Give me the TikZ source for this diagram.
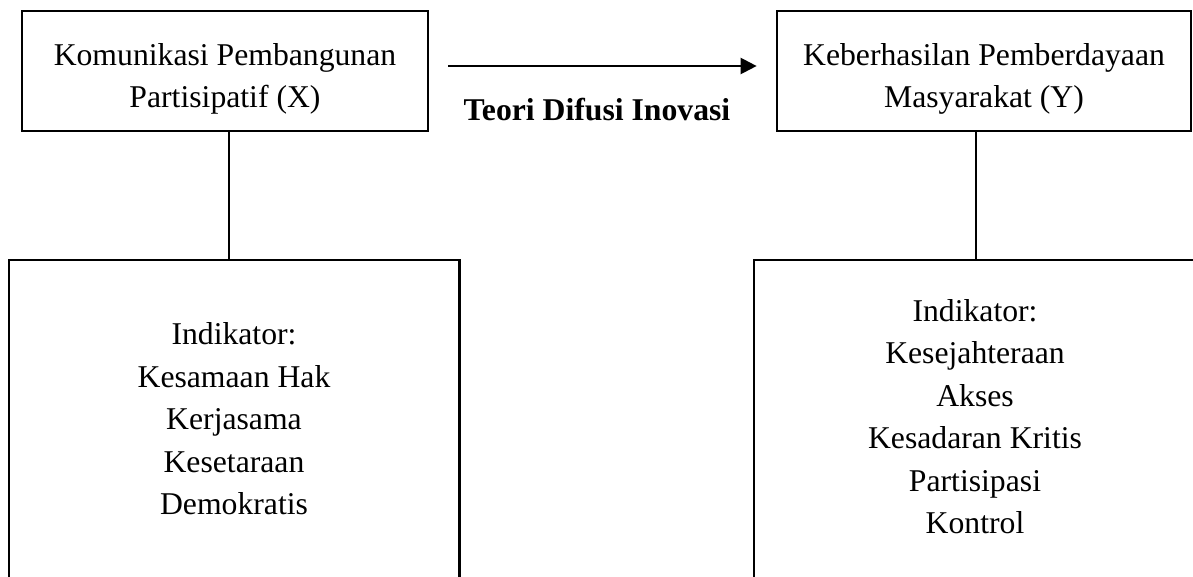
\documentclass[tikz,border=0pt]{standalone}
\usepackage{fontspec}
\setmainfont{Liberation Serif}
\usetikzlibrary{arrows.meta}
\tikzset{
  box/.style={draw=black, line width=2.7pt, inner sep=0pt, fill=none},
  txt/.style={inner sep=0pt, align=center, font=\fontsize{31.7}{42.5}\selectfont},
  link/.style={draw=black, line width=1.5pt},
  flow/.style={draw=black, line width=2.2pt, -{Triangle[length=16pt,width=16pt]}}
}
\begin{document}
\begin{tikzpicture}[x=1pt,y=-1pt]
\useasboundingbox (0,0) rectangle (1193,576);
\clip (0,0) rectangle (1193,576);
\fill[white] (0,0) rectangle (1193,576);
% top boxes
\node[box, minimum width=406pt, minimum height=120pt] (lt) at (225,71) {};
\node[box, minimum width=414pt, minimum height=120pt] (rt) at (984,71) {};
\node[txt, anchor=north] (ltt) at (225,43.3) {Komunikasi Pembangunan\\Partisipatif (X)};
\node[txt, anchor=north] (rtt) at (984,43.3) {Keberhasilan Pemberdayaan\\Masyarakat (Y)};
% bottom boxes
\node[box, minimum width=450.5pt, minimum height=340pt] (lb) at (234.25,430) {};
\node[box, minimum width=466pt, minimum height=340pt] (rb) at (987,430) {};
\node[txt, anchor=north] (lbt) at (234,322.3) {Indikator:\\Kesamaan Hak\\Kerjasama\\Kesetaraan\\Demokratis};
\node[txt, anchor=north] (rbt) at (975,299) {Indikator:\\Kesejahteraan\\Akses\\Kesadaran Kritis\\Partisipasi\\Kontrol};
% arrow and label
\draw[flow, shorten <=19pt, shorten >=19pt] ([yshift=5pt]lt.east) -- ([yshift=5pt]rt.west);
\node[txt, anchor=base, font=\fontsize{31.7}{42.5}\selectfont\bfseries] (lbl) at (597,120) {Teori Difusi Inovasi};
% connectors
\draw[link] ([xshift=4pt]lt.south) -- ([xshift=4pt]lt.south |- lb.north);
\draw[link] ([xshift=-8pt]rt.south) -- ([xshift=-8pt]rt.south |- rb.north);
\end{tikzpicture}
\end{document}
